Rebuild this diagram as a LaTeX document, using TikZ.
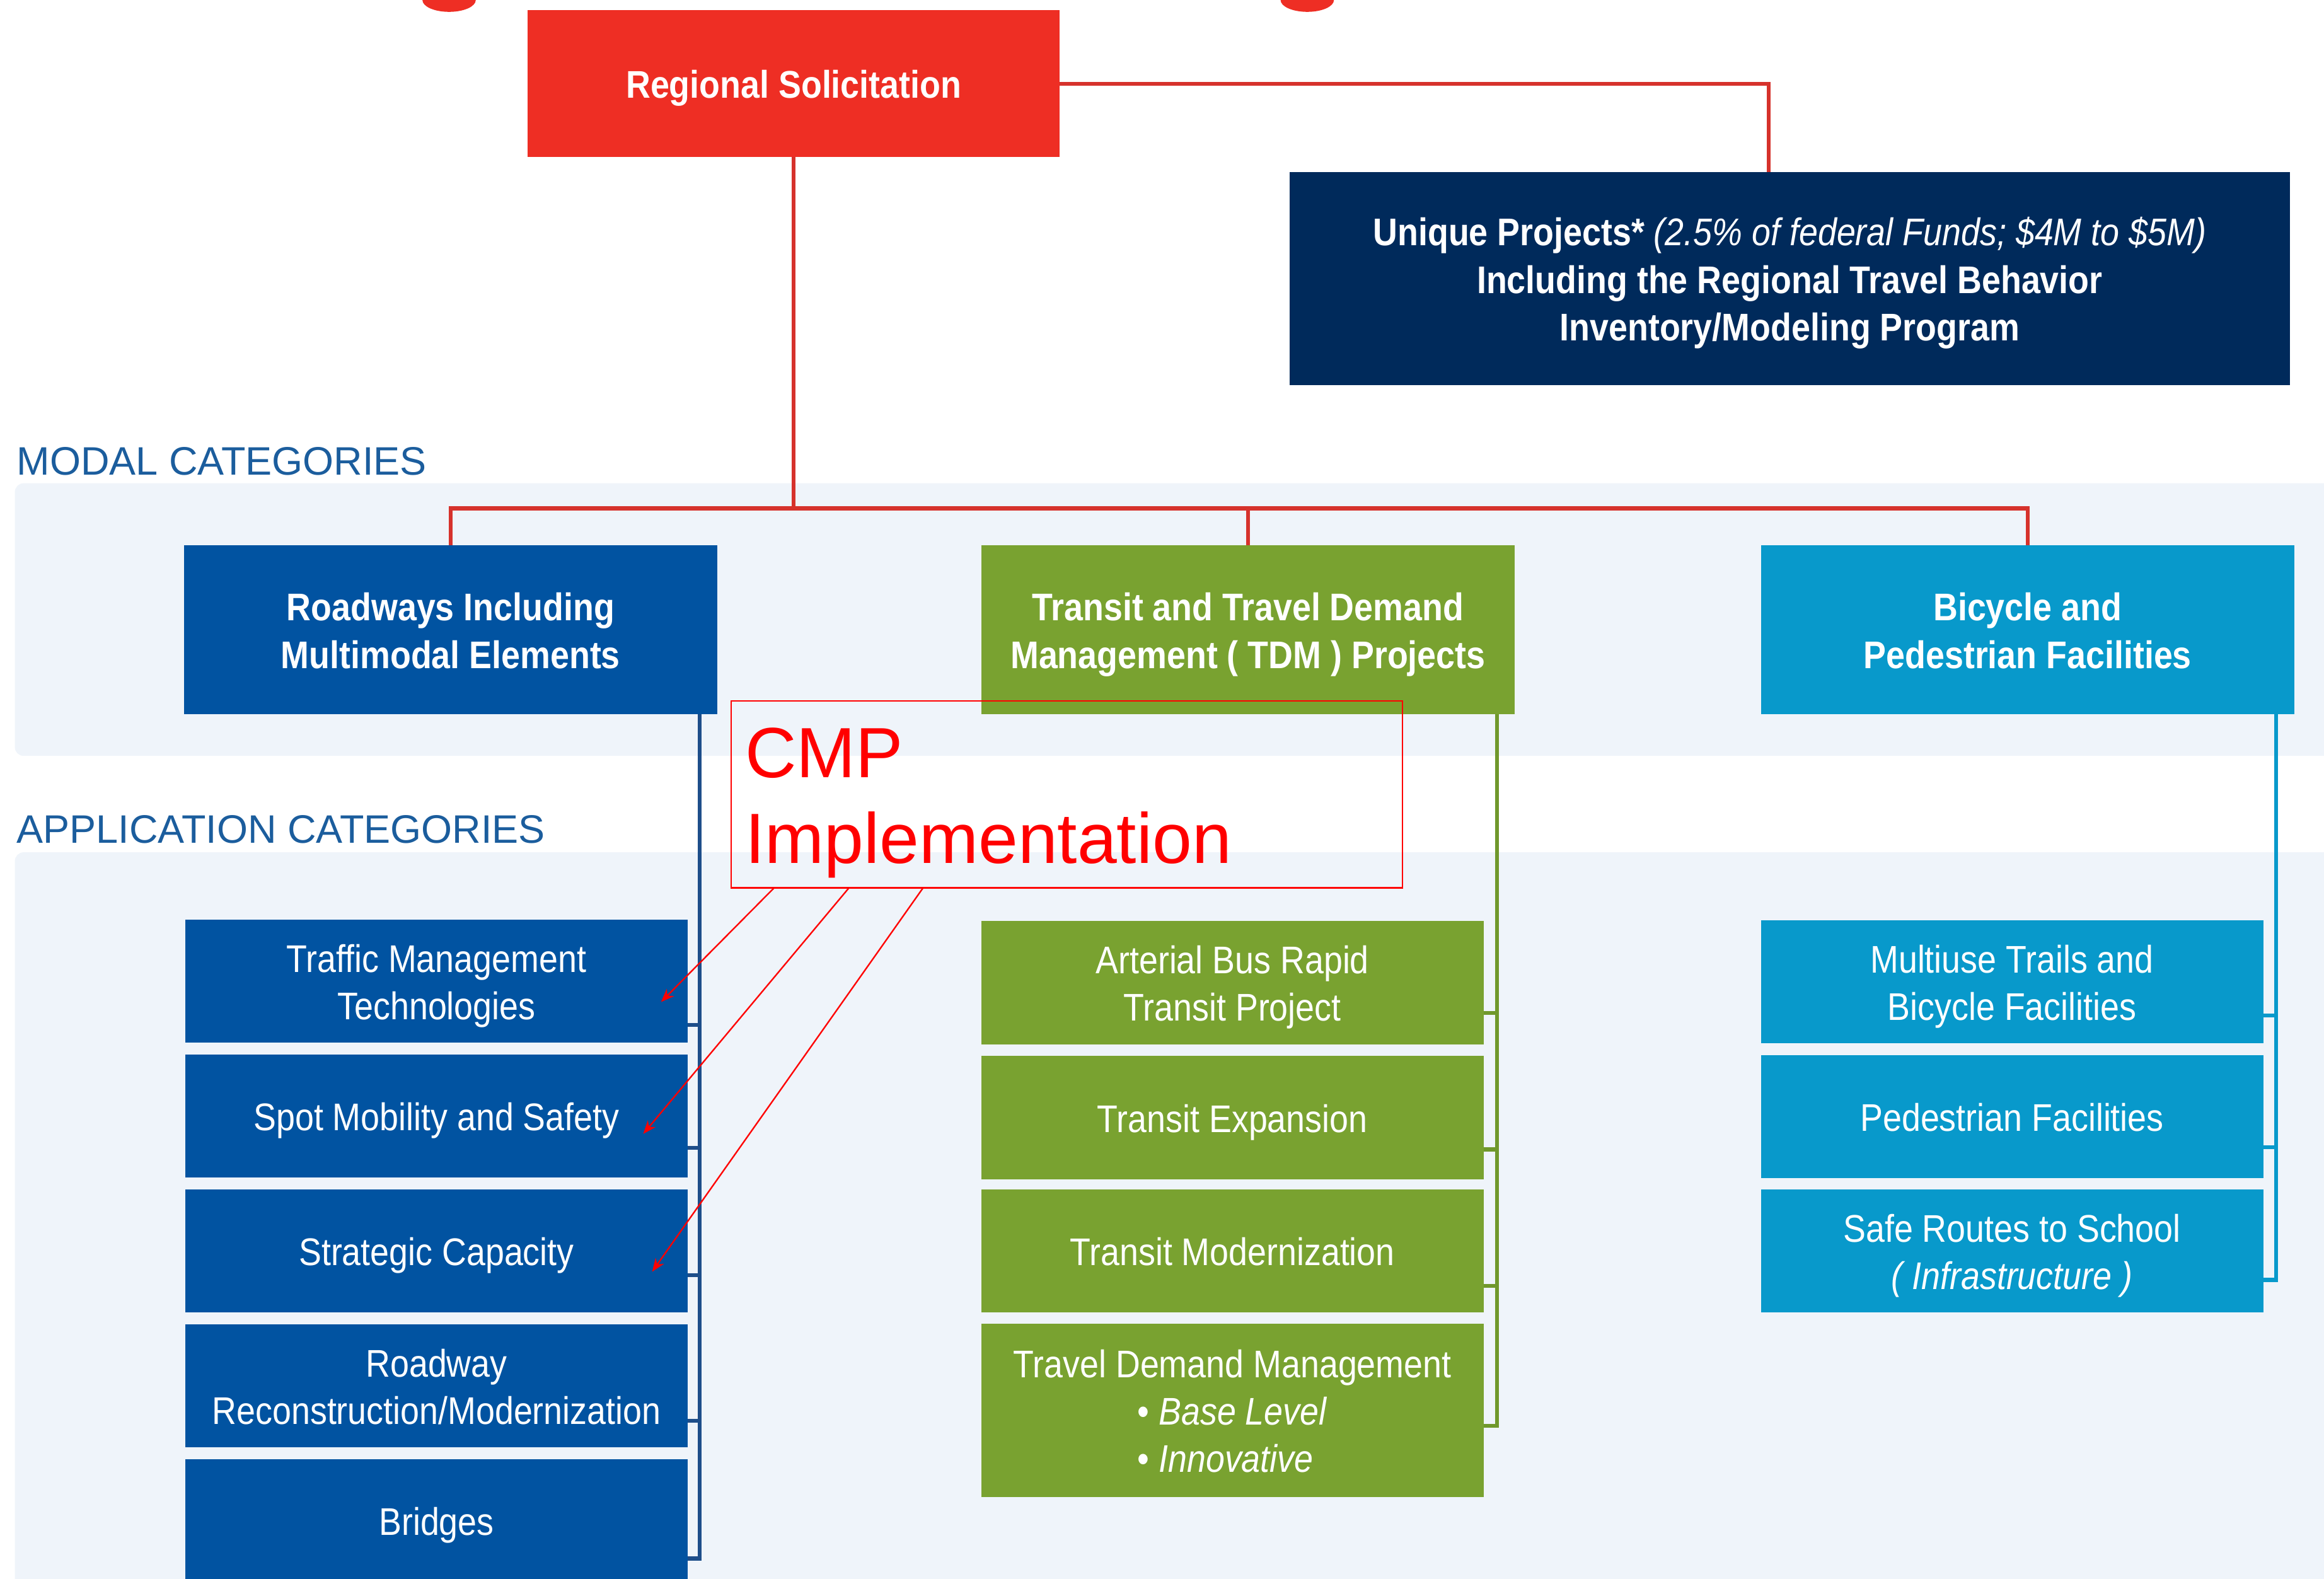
\documentclass[tikz,border=0pt]{standalone}
\usepackage{fontspec}
\setmainfont[FakeStretch=0.88]{Liberation Sans}
\newfontfamily\plainsans{Liberation Sans}
\usepackage{tikz}
\usetikzlibrary{arrows.meta}
\usetikzlibrary{calc}

\definecolor{rsred}{RGB}{238,46,36}
\definecolor{linkred}{RGB}{214,50,44}
\definecolor{uniquenavy}{RGB}{0,42,91}
\definecolor{roadblue}{RGB}{1,83,161}
\definecolor{roadline}{RGB}{30,78,138}
\definecolor{transitgreen}{RGB}{121,162,48}
\definecolor{transitline}{RGB}{112,152,44}
\definecolor{bikecyan}{RGB}{8,153,203}
\definecolor{bandblue}{RGB}{239,244,250}
\definecolor{headblue}{RGB}{27,93,157}
\definecolor{cmpred}{RGB}{255,0,0}

\newcommand{\boxfont}{\fontsize{13}{16}\selectfont}
% struts on the first and last line keep every box label at the same height
\newcommand{\topstrut}{\rule{0pt}{13pt}}
\newcommand{\botstrut}{\rule[-3.2pt]{0pt}{3.2pt}}

\tikzset{
  catbox/.style={anchor=north west, inner sep=0pt, outer sep=0pt, text=white, align=center, font=\boxfont},
  modalbox/.style={catbox, font=\boxfont\bfseries, minimum width=180pt, minimum height=57pt},
  appbox/.style={catbox, minimum width=169.5pt, minimum height=41.5pt},
  heading/.style={anchor=base west, inner sep=0pt, text=headblue, font=\plainsans\fontsize{13.4}{16}\selectfont},
  redlink/.style={draw=linkred, line width=1.3pt},
  trunk/.style={line width=1.3pt},
  cmparrow/.style={draw=cmpred, line width=0.5pt, -{Stealth[length=4.5pt,width=3.5pt]}}
}

\begin{document}
\begin{tikzpicture}[x=0.5pt,y=0.5pt,yscale=-1,xscale=1]
\useasboundingbox (0,0) rectangle (1568,1065);
\clip (0,0) rectangle (1568,1065);

%Shape: Rectangle (modal band)
\fill[bandblue, rounded corners=3pt] (10,326) rectangle (1590,510);
%Shape: Rectangle (application band)
\fill[bandblue, rounded corners=3pt] (10,575) rectangle (1590,1090);

%Shape: Ellipse (title descenders along the top edge)
\fill[rsred] (303,0) ellipse (18 and 8);
\fill[rsred] (882,0) ellipse (18 and 8);

% Text Node
\node (rs) [modalbox, fill=rsred, minimum width=179.5pt, minimum height=49.5pt] at (356,7) {\topstrut Regional Solicitation\botstrut};

% Text Node
\node (unique) [catbox, fill=uniquenavy, minimum width=337.5pt, minimum height=72pt] at (870,116)
  {\topstrut\textbf{Unique Projects*} \textit{(2.5\% of federal Funds; \$4M to \$5M)}\\
   \textbf{Including the Regional Travel Behavior}\\
   \textbf{Inventory/Modeling Program}\botstrut};

% Text Node
\node (modalhead) [heading] at (11,320.5) {MODAL CATEGORIES};
\node (apphead) [heading] at (11,569) {APPLICATION CATEGORIES};

%Modal categories
\node (road) [modalbox, fill=roadblue] at (124,368) {\topstrut Roadways Including\\ Multimodal Elements\botstrut};
\node (transit) [modalbox, fill=transitgreen] at (662,368) {\topstrut Transit and Travel Demand\\ Management ( TDM ) Projects\botstrut};
\node (bike) [modalbox, fill=bikecyan] at (1188,368) {\topstrut Bicycle and\\ Pedestrian Facilities\botstrut};

%Straight Lines (red tree)
\coordinate (modalbus) at ($(rs.south)+(0,237)$);
\draw[redlink] (rs.east) -| ($(unique.north)+(-14,0)$);
\draw[redlink] (rs.south) -- (modalbus);
\draw[redlink] (road.north) |- (modalbus) -| (bike.north);
\draw[redlink] (transit.north) -- (transit.north |- modalbus);

%Application categories: roadways
\node (tmt) [appbox, fill=roadblue] at (125,620.5) {\topstrut Traffic Management\\ Technologies\botstrut};
\node (spot) [appbox, fill=roadblue] at (125,711.5) {\topstrut Spot Mobility and Safety\botstrut};
\node (strat) [appbox, fill=roadblue] at (125,802.5) {\topstrut Strategic Capacity\botstrut};
\node (recon) [appbox, fill=roadblue] at (125,893.5) {\topstrut Roadway\\ Reconstruction/Modernization\botstrut};
\node (bridge) [appbox, fill=roadblue] at (125,984.5) {\topstrut Bridges\botstrut};

%Application categories: transit
\node (brt) [appbox, fill=transitgreen] at (662,621.5) {\topstrut Arterial Bus Rapid\\ Transit Project\botstrut};
\node (expand) [appbox, fill=transitgreen] at (662,712.5) {\topstrut Transit Expansion\botstrut};
\node (modern) [appbox, fill=transitgreen] at (662,802.5) {\topstrut Transit Modernization\botstrut};
\node (tdm) [appbox, fill=transitgreen, minimum height=58.5pt] at (662,893)
  {\rule{0pt}{14.6pt}Travel Demand Management\\
   \begin{tabular}[t]{@{}l@{}}\textbullet\ \textit{Base Level}\\ \textbullet\ \textit{Innovative}\end{tabular}};

%Application categories: bicycle and pedestrian
\node (trails) [appbox, fill=bikecyan] at (1188,621) {\topstrut Multiuse Trails and\\ Bicycle Facilities\botstrut};
\node (ped) [appbox, fill=bikecyan] at (1188,712) {\topstrut Pedestrian Facilities\botstrut};
\node (srts) [appbox, fill=bikecyan] at (1188,802.5) {\topstrut Safe Routes to School\\ \textit{( Infrastructure )}\botstrut};

%Straight Lines (column trunks)
\draw[trunk, draw=roadline] ($(road.south east)+(-12,0)$) |- ($(bridge.south east)+(0,-16)$);
\foreach \b/\dy in {tmt/12,spot/20,strat/25,recon/18}
  \draw[trunk, draw=roadline] ($(\b.south east)+(0,-\dy)$) -- ++(9,0);

\draw[trunk, draw=transitline] ($(transit.south east)+(-12,0)$) |- ($(tdm.south east)+(0,-48)$);
\foreach \b/\dy in {brt/21,expand/20,modern/18}
  \draw[trunk, draw=transitline] ($(\b.south east)+(0,-\dy)$) -- ++(8,0);

\draw[trunk, draw=bikecyan] ($(bike.south east)+(-12.5,0)$) |- ($(srts.south east)+(0,-22)$);
\foreach \b/\dy in {trails/19,ped/21}
  \draw[trunk, draw=bikecyan] ($(\b.south east)+(0,-\dy)$) -- ++(7.5,0);

% Text Node (CMP call-out)
\node (cmp) [draw=cmpred, line width=0.5pt, anchor=north west, minimum width=226.5pt, minimum height=63pt,
  inner sep=0pt, outer sep=0pt, text width=217pt, align=left, text=cmpred,
  font=\plainsans\fontsize{24}{28.8}\selectfont] at (493.3,473) {\rule{0pt}{22.5pt}CMP\\Implementation};

%Straight Lines (call-out arrows)
\draw[cmparrow] ($(cmp.south west)+(29,0)$) -- ($(tmt.east)+(-18,14)$);
\draw[cmparrow] ($(cmp.south west)+(79.5,0)$) -- ($(spot.east)+(-30,12)$);
\draw[cmparrow] ($(cmp.south west)+(129.5,0)$) -- ($(strat.east)+(-24,14)$);

\end{tikzpicture}
\end{document}
